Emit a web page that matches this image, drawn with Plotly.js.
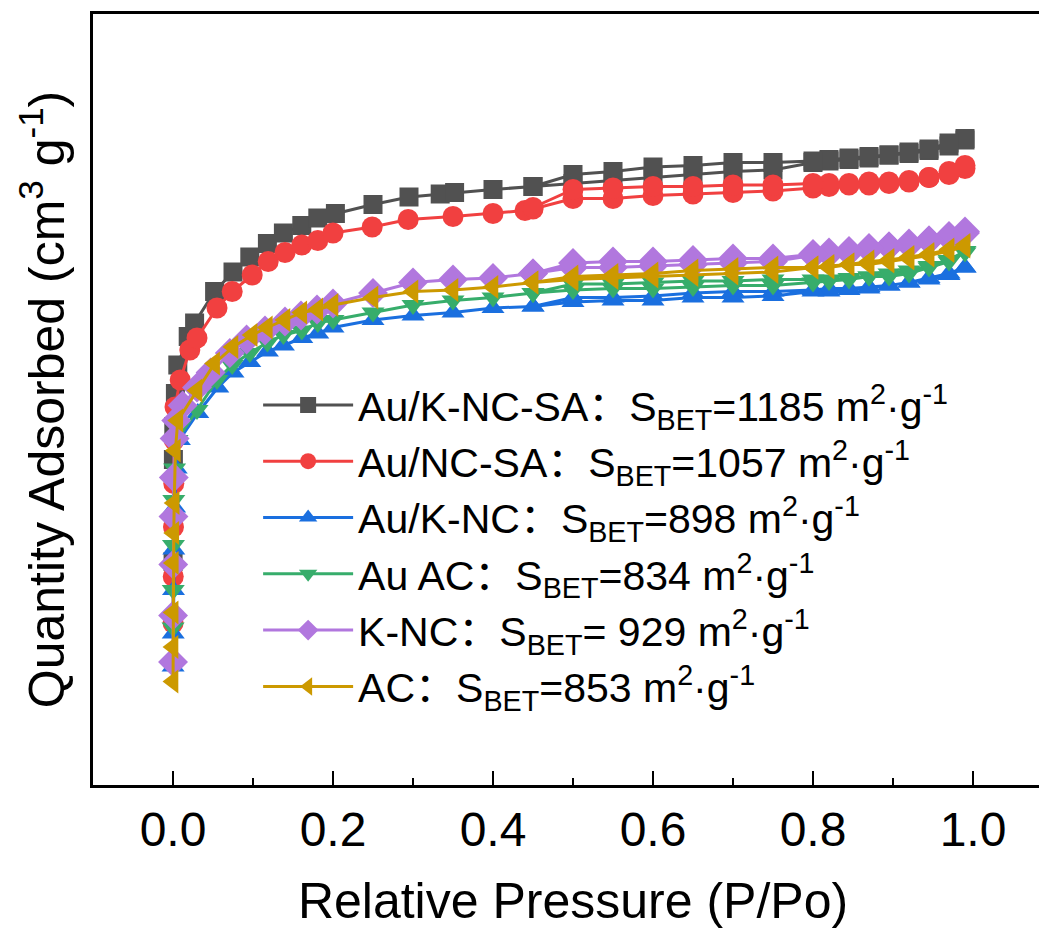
<!DOCTYPE html>
<html>
<head>
<meta charset="utf-8">
<script src="https://cdn.plot.ly/plotly-3.0.1.min.js"></script>
<style>
html, body { margin: 0; padding: 0; overflow: hidden; background: #fff; }
#chart { width: 1100px; height: 933px; }
</style>
</head>
<body>
<div id="chart"></div>
<script>
// Relative pressure of the desorption branch (shared)
const desP = [0.99,0.97,0.945,0.92,0.895,0.87,0.845,0.82,0.80,0.75,0.70,0.65,0.60,0.55,0.50,0.45];

// Au/K-NC-SA
const adsP_AuKNCSA = [0.0001,0.0005,0.001,0.003,0.006,0.019,0.027,0.052,0.075,0.096,0.118,0.138,0.161,0.181,0.203,0.25,0.295,0.334,0.352,0.40,0.45,0.50,0.55,0.60,0.65,0.70,0.75,0.80,0.82,0.845,0.87,0.895,0.92,0.945,0.97,0.99];
const adsQ_AuKNCSA = [149,217,239,261,280,299,308,329,342,352,361,368,373,378,381,387,392,394,395,397,399,401,403,405,407,409,410,415,416,417,418,420,421,423,426,430];
const desQ_AuKNCSA = [431,428,424,422,420,419,418,417,416,415,415,413,412,409,407,399];

// Au/NC-SA
const adsP_AuNCSA = [0.0001,0.0003,0.0006,0.001,0.0015,0.0025,0.009,0.021,0.03,0.055,0.074,0.099,0.119,0.14,0.161,0.181,0.2,0.249,0.294,0.35,0.40,0.44,0.45,0.50,0.55,0.60,0.65,0.70,0.75,0.80,0.82,0.845,0.87,0.895,0.92,0.945,0.97,0.99];
const adsQ_AuNCSA = [108,139,172,201,230,252,270,290,298,318,329,340,349,355,360,363,368,372,377,379,381,383,384,391,391,393,394,395,396,398,399,400,400,401,402,405,407,411];
const desQ_AuNCSA = [413,409,405,403,402,402,401,401,401,400,400,399,399,398,397,385];

// Au/K-NC
const adsP_AuKNC = [0.0001,0.0003,0.0006,0.001,0.002,0.004,0.008,0.031,0.056,0.075,0.096,0.118,0.138,0.161,0.181,0.2,0.25,0.3,0.35,0.4,0.45,0.5,0.55,0.6,0.65,0.7,0.75,0.8,0.82,0.845,0.87,0.895,0.92,0.945,0.97,0.99];
const adsQ_AuKNC = [79,101,130,157,185,211,230,248,265,275,282,289,293,298,301,305,310,313,315,318,319,322,323,323,325,325,326,329,329,330,331,333,335,337,340,345];
const desQ_AuKNC = [345,341,338,335,333,332,331,331,330,329,329,328,326,325,325,319];

// Au AC
const adsP_AuAC = [0.0001,0.0003,0.0006,0.001,0.002,0.005,0.03,0.055,0.074,0.096,0.118,0.138,0.161,0.181,0.2,0.25,0.3,0.35,0.4,0.45,0.5,0.55,0.6,0.65,0.7,0.75,0.8,0.82,0.845,0.87,0.895,0.92,0.945,0.97,0.99];
const adsQ_AuAC = [105,130,160,190,211,230,250,270,280,288,295,300,303,308,310,315,320,323,325,328,330,331,331,332,333,333,335,336,337,339,339,341,345,349,355];
const desQ_AuAC = [356,350,346,343,341,339,338,337,337,337,336,336,335,334,334,328];

// K-NC
const adsP_KNC = [0.00005,0.0001,0.0003,0.0006,0.001,0.002,0.004,0.012,0.03,0.047,0.071,0.092,0.115,0.14,0.16,0.18,0.2,0.25,0.3,0.35,0.4,0.45,0.5,0.55,0.6,0.65,0.7,0.75,0.8,0.82,0.845,0.87,0.895,0.92,0.945,0.97,0.99];
const adsQ_KNC = [82,113,147,179,205,231,243,253,265,275,288,297,303,309,313,317,321,328,335,337,338,341,345,345,346,347,348,349,353,354,355,357,359,360,363,365,368];
const desQ_KNC = [369,366,363,361,359,358,356,355,354,351,351,350,349,349,348,341];

// AC
const adsP_AC = [0.00005,0.0001,0.0002,0.0005,0.001,0.0015,0.003,0.006,0.03,0.052,0.075,0.099,0.118,0.14,0.161,0.181,0.2,0.25,0.3,0.35,0.4,0.45,0.5,0.55,0.6,0.65,0.7,0.75,0.8,0.82,0.845,0.87,0.895,0.92,0.945,0.97,0.99];
const adsQ_AC = [69,92,115,148,168,188,223,243,263,281,292,300,305,310,315,317,320,325,329,330,332,335,337,338,339,340,341,342,345,345,347,347,349,351,353,356,359];
const desQ_AC = [360,357,354,352,350,349,347,346,345,345,344,343,341,340,339,335];

const seriesNames = [
  'Au/K-NC-SA：S<sub>BET</sub>=1185 m<sup>2</sup>·g<sup>-1</sup>',
  'Au/NC-SA：S<sub>BET</sub>=1057 m<sup>2</sup>·g<sup>-1</sup>',
  'Au/K-NC：S<sub>BET</sub>=898 m<sup>2</sup>·g<sup>-1</sup>',
  'Au AC：S<sub>BET</sub>=834 m<sup>2</sup>·g<sup>-1</sup>',
  'K-NC：S<sub>BET</sub>= 929 m<sup>2</sup>·g<sup>-1</sup>',
  'AC：S<sub>BET</sub>=853 m<sup>2</sup>·g<sup>-1</sup>'
];
const seriesColors = ['#515151','#F14040','#1A6FDF','#37AD6B','#B177DE','#CC9900'];
const seriesSymbols = ['square','circle','triangle-up','triangle-down','diamond','triangle-left'];
const seriesSizes = [19,21,20,20,23,21];

const adsP = [adsP_AuKNCSA, adsP_AuNCSA, adsP_AuKNC, adsP_AuAC, adsP_KNC, adsP_AC];
const adsQ = [adsQ_AuKNCSA, adsQ_AuNCSA, adsQ_AuKNC, adsQ_AuAC, adsQ_KNC, adsQ_AC];
const desQ = [desQ_AuKNCSA, desQ_AuNCSA, desQ_AuKNC, desQ_AuAC, desQ_KNC, desQ_AC];

const font = 'Arial, "Liberation Sans", "Noto Sans CJK SC", sans-serif';

const traces = seriesNames.map((name, i) => ({
  type: 'scatter',
  mode: 'lines+markers',
  name: name,
  x: adsP[i].concat(desP),
  y: adsQ[i].concat(desQ[i]),
  line: {color: seriesColors[i], width: 3},
  marker: {symbol: seriesSymbols[i], size: seriesSizes[i], color: seriesColors[i]},
  cliponaxis: false
}));

const layout = {
  width: 1100,
  height: 933,
  margin: {l: 93, r: 47, t: 14, b: 148},
  paper_bgcolor: '#fff',
  plot_bgcolor: '#fff',
  font: {family: font, color: '#000'},
  showlegend: true,
  legend: {
    x: 0.172, y: 0.536, xanchor: 'left', yanchor: 'top',
    bgcolor: 'rgba(0,0,0,0)',
    font: {family: font, size: 41, color: '#000'},
    itemwidth: 90,
    tracegroupgap: 0
  },
  xaxis: {
    range: [-0.1, 1.1],
    showline: true, linecolor: '#000', linewidth: 3, mirror: true,
    ticks: 'inside', ticklen: 14, tickwidth: 2.5, tickcolor: '#000',
    tick0: 0, dtick: 0.2, tickformat: '.1f',
    tickfont: {family: font, size: 48, color: '#000'},
    minor: {ticks: 'inside', ticklen: 7, tickwidth: 2.5, tickcolor: '#000', tick0: 0, dtick: 0.1, showgrid: false},
    showgrid: false, zeroline: false,
    title: {text: 'Relative Pressure (P/Po)', font: {family: font, size: 50, color: '#000'}, standoff: 29}
  },
  yaxis: {
    range: [0, 514],
    showline: true, linecolor: '#000', linewidth: 3, mirror: true,
    ticks: '', showticklabels: false,
    showgrid: false, zeroline: false,
    title: {text: 'Quantity Adsorbed (cm<sup>3</sup> g<sup>-1</sup>)', font: {family: font, size: 50, color: '#000'}, standoff: 10}
  }
};

Plotly.newPlot('chart', traces, layout, {displayModeBar: false, staticPlot: true});
</script>
</body>
</html>
